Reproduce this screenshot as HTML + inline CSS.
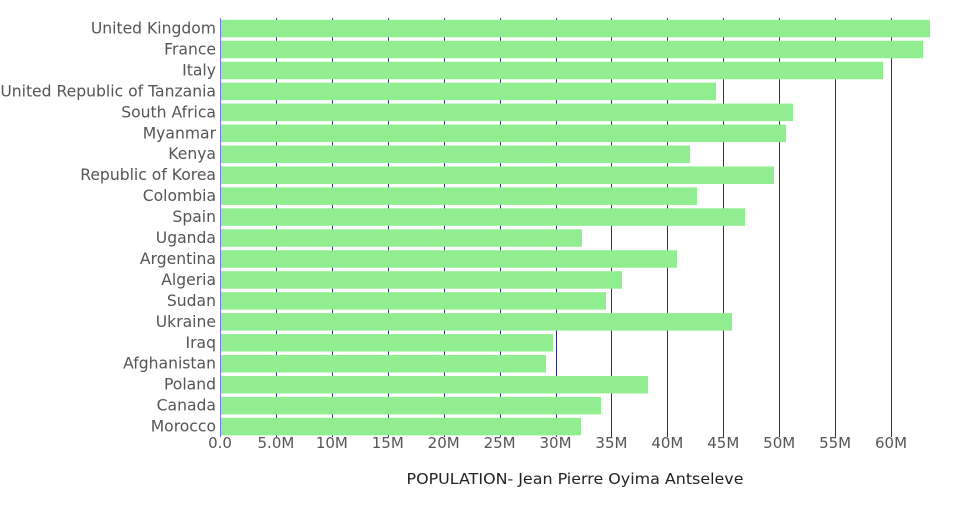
<!DOCTYPE html>
<html><head><style>body{margin:0;background:#fff}</style></head><body>
<svg width="960" height="500" xmlns="http://www.w3.org/2000/svg" font-family="DejaVu Sans, sans-serif">
<g id="grid" stroke="#2a2a80" stroke-width="1"></g>
<g id="bars" fill="#90ee90"></g>
<line x1="220.5" y1="18" x2="220.5" y2="437" stroke="#7777ee" stroke-width="1"/>
<g id="labels" fill="#555" font-size="15.6" text-anchor="end"></g>
<g id="ticks" fill="#555" font-size="15" text-anchor="middle"></g>
<text x="575" y="484" font-size="15" fill="#222" text-anchor="middle" textLength="337" lengthAdjust="spacingAndGlyphs">POPULATION- Jean Pierre Oyima Antseleve</text>
</svg>
<script>
var ns="http://www.w3.org/2000/svg";
var names=["United Kingdom","France","Italy","United Republic of Tanzania","South Africa","Myanmar","Kenya","Republic of Korea","Colombia","Spain","Uganda","Argentina","Algeria","Sudan","Ukraine","Iraq","Afghanistan","Poland","Canada","Morocco"];
var ends=[930,923,883,716,793,786,690,774,697,745,582,677,622,606,732,553,546,648,601,581];
var g=document.getElementById("grid"),b=document.getElementById("bars"),l=document.getElementById("labels"),t=document.getElementById("ticks");
function el(n,a,p,txt){var e=document.createElementNS(ns,n);for(var k in a)e.setAttribute(k,a[k]);if(txt)e.textContent=txt;p.appendChild(e);}
var tl=["0.0","5.0M","10M","15M","20M","25M","30M","35M","40M","45M","50M","55M","60M"];
for(var i=0;i<13;i++){var x=220+i*55.92;if(i>0)el("line",{x1:Math.round(x)+.5,x2:Math.round(x)+.5,y1:18,y2:437},g);el("text",{x:x,y:448},t,tl[i]);}
for(var i=0;i<20;i++){var y=18+i*20.95;el("rect",{x:221,y:y+1.8,width:ends[i]-221,height:17.5},b);el("text",{x:216,y:y+15.5},l,names[i]);}
</script>
</body></html>
